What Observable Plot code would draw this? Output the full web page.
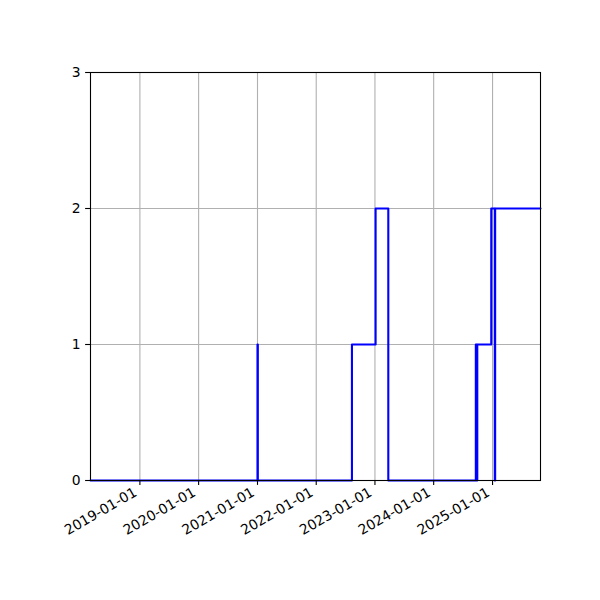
<!DOCTYPE html>
<html>
<head>
<meta charset="utf-8">
<script src="https://cdn.jsdelivr.net/npm/d3@7"></script>
<script src="https://cdn.jsdelivr.net/npm/@observablehq/plot@0.6"></script>
<style>
  html, body { margin: 0; padding: 0; background: white; }
</style>
</head>
<body>
<div id="chart"></div>
<script>
// Step series (value holds from each date until the next)
const dates = [
  "2018-02-28", "2021-01-01", "2021-01-03", "2022-08-11", "2023-01-05",
  "2023-03-25", "2024-09-19", "2024-09-25", "2024-09-28", "2024-12-24",
  "2025-01-15", "2025-01-17", "2025-10-26"
];
const values = [0, 1, 0, 1, 2, 0, 1, 0, 1, 2, 0, 2, 2];

const xTickLabels = ["2019-01-01", "2020-01-01", "2021-01-01", "2022-01-01", "2023-01-01", "2024-01-01", "2025-01-01"];
const yTicks = [0, 1, 2, 3];
const xDomain = ["2018-02-28", "2025-10-26"];

const data = dates.map((d, i) => ({date: new Date(d), value: values[i]}));
const xTicks = xTickLabels.map(d => new Date(d));

const chart = Plot.plot({
  width: 600,
  height: 600,
  marginLeft: 90,
  marginRight: 60,
  marginTop: 72,
  marginBottom: 120,
  style: {fontFamily: "DejaVu Sans", fontSize: "13.9px", background: "white", color: "black"},
  x: {type: "utc", domain: xDomain.map(d => new Date(d))},
  y: {domain: [0, 3]},
  marks: [
    Plot.gridX(xTicks, {stroke: "#b0b0b0", strokeOpacity: 1, strokeWidth: 1.1}),
    Plot.gridY(yTicks, {stroke: "#b0b0b0", strokeOpacity: 1, strokeWidth: 1.1}),
    Plot.line(data, {x: "date", y: "value", curve: "step-after", stroke: "#0000ff", strokeWidth: 2.1}),
    Plot.frame({stroke: "black", strokeWidth: 1.1}),
    Plot.axisX({ticks: xTicks, tickSize: 4.9, tickFormat: () => "", label: null, strokeWidth: 1.1}),
    Plot.text(xTicks, {
      x: d => d, frameAnchor: "bottom", text: (d, i) => xTickLabels[i],
      rotate: -30, textAnchor: "end", dx: -2, dy: 14.5, fontSize: 13.9, fill: "black"
    }),
    Plot.axisY({ticks: yTicks, tickSize: 4.9, tickPadding: 4.9, tickFormat: d3.format("d"), label: null, fontSize: 13.9, strokeWidth: 1.1})
  ]
});
document.getElementById("chart").appendChild(chart);
</script>
</body>
</html>
